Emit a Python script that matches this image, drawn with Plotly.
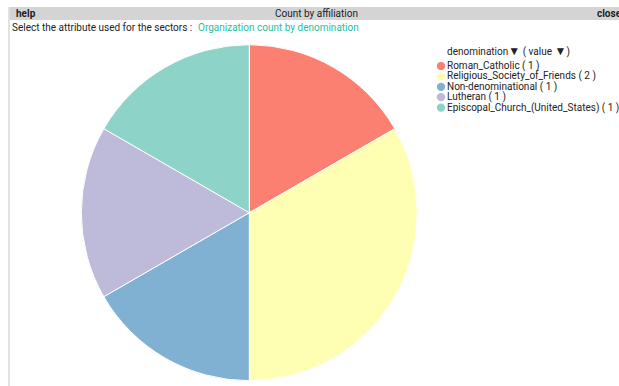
import plotly.graph_objects as go

labels = ["Roman_Catholic", "Religious_Society_of_Friends", "Non-denominational",
          "Lutheran", "Episcopal_Church_(United_States)"]
values = [1, 2, 1, 1, 1]
colors = ["#fb8072", "#ffffb3", "#80b1d3", "#bebada", "#8dd3c7"]

W, H = 619, 386
cx, cy, r = 249.3, 212.7, 168

fig = go.Figure(go.Pie(
    labels=labels, values=values, sort=False, direction="clockwise", rotation=0,
    marker=dict(colors=colors, line=dict(color="white", width=1)),
    textinfo="none", hoverinfo="label+value", showlegend=False,
    domain=dict(x=[(cx - r) / W, (cx + r) / W], y=[1 - (cy + r) / H, 1 - (cy - r) / H]),
))

font = "Roboto, Arial, sans-serif"
shapes = [
    dict(type="rect", xref="paper", yref="paper", x0=10 / W, x1=1, y0=1 - 20 / H, y1=1 - 7 / H,
         fillcolor="#d4d4d4", line=dict(width=0), layer="below"),
    dict(type="rect", xref="paper", yref="paper", x0=8 / W, x1=10 / W, y0=0, y1=1 - 7 / H,
         fillcolor="#e2e2e2", line=dict(width=0), layer="below"),
]

def ann(x, y, text, color="#222", size=10, xanchor="left", bold=False):
    if bold:
        text = "<b>" + text + "</b>"
    return dict(x=x / W, y=1 - y / H, xref="paper", yref="paper", text=text, showarrow=False,
                xanchor=xanchor, yanchor="middle", borderpad=0,
                font=dict(family=font, size=size, color=color))

annotations = [
    ann(15, 13.5, "help", bold=True),
    ann(316, 13.5, "Count by affiliation", xanchor="center"),
    ann(596, 13.5, "close", bold=True),
    ann(11, 27.5, "Select the attribute used for the sectors : "),
    ann(197, 27.5, "Organization count by denomination", color="#26c0a0"),
    ann(446, 50.5, "denomination<span style='font-size:12px'>▼</span> ( value <span style='font-size:12px'>▼</span>)"),
]
for i, (lab, val, col) in enumerate(zip(labels, values, colors)):
    y = 66 + i * 10.4
    shapes.append(dict(type="circle", xref="paper", yref="paper",
                       x0=(437 - 0.2) / W, x1=(445.2) / W, y0=1 - (y + 4.1) / H, y1=1 - (y - 4.1) / H,
                       fillcolor=col, line=dict(width=0)))
    annotations.append(ann(446, y, f"{lab} ( {val} )"))

fig.update_layout(width=W, height=H, margin=dict(l=0, r=0, t=0, b=0),
                  paper_bgcolor="white", plot_bgcolor="white",
                  shapes=shapes, annotations=annotations)
fig.write_html("out.html")
